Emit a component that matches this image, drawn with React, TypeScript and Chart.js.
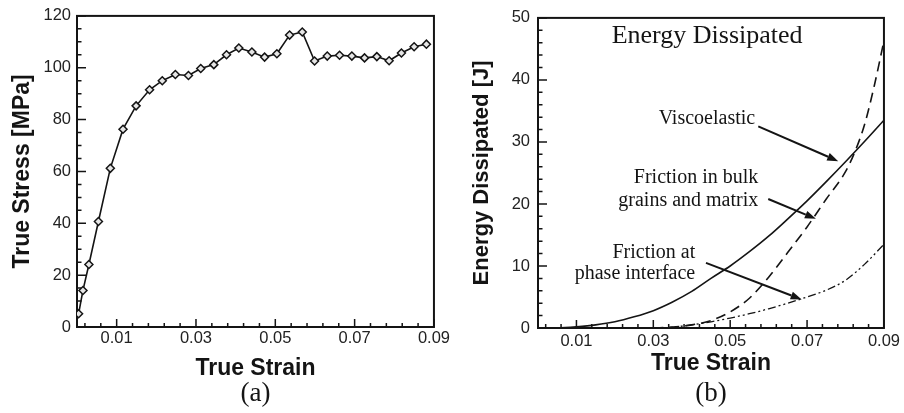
import React, { useEffect, useRef } from "react";
import { Chart, registerables } from "chart.js";

Chart.register(...registerables);

// ---------- Panel (a): true stress vs true strain ----------
const stressStrain = [
  0.0004, 0.0015, 0.003, 0.0054, 0.0084, 0.0116, 0.0149, 0.0183, 0.0215, 0.0248,
  0.0281, 0.0312, 0.0345, 0.0377, 0.0408, 0.0441, 0.0473, 0.0504, 0.0536, 0.0568,
  0.0599, 0.0631, 0.0662, 0.0693, 0.0725, 0.0756, 0.0787, 0.0818, 0.085, 0.0881,
];
const trueStress = [
  5.1, 14.1, 24.1, 40.7, 61.2, 76.3, 85.3, 91.5, 95.0, 97.4,
  97.0, 99.7, 101.2, 105.0, 107.6, 106.1, 104.1, 105.4, 112.6, 113.8,
  102.6, 104.5, 104.8, 104.5, 103.8, 104.3, 102.7, 105.7, 108.1, 109.1,
];
const stressMajorTicks = [0, 20, 40, 60, 80, 100, 120];
const stressMinorTicks = [5, 10, 15, 25, 30, 35, 45, 50, 55, 65, 70, 75, 85, 90, 95, 105, 110, 115];

// ---------- shared strain axis ----------
const strainMajorTicks = [0.01, 0.03, 0.05, 0.07, 0.09];
const strainMinorTicks = [
  0.002, 0.006, 0.014, 0.018, 0.022, 0.026, 0.034, 0.038, 0.042, 0.046,
  0.054, 0.058, 0.062, 0.066, 0.074, 0.078, 0.082, 0.086,
];

// ---------- Panel (b): energy dissipated ----------
const viscoStrain = [
  0, 0.005, 0.01, 0.015, 0.02, 0.025, 0.03, 0.035, 0.04, 0.045,
  0.05, 0.055, 0.06, 0.065, 0.07, 0.075, 0.08, 0.085, 0.09,
];
const viscoEnergy = [
  0, 0.02, 0.2, 0.5, 1.0, 1.8, 2.8, 4.2, 5.9, 8.0,
  10.0, 12.3, 14.8, 17.6, 20.5, 23.6, 26.8, 30.1, 33.5,
];
const bulkStrain = [
  0.03, 0.035, 0.04, 0.045, 0.05, 0.055, 0.06, 0.065, 0.07, 0.075,
  0.08, 0.0825, 0.085, 0.0875, 0.09,
];
const bulkEnergy = [
  0, 0.15, 0.5, 1.2, 2.6, 4.8, 8.2, 12.2, 16.3, 20.8,
  25.2, 28.5, 32.9, 39.1, 46.3,
];
const interfaceStrain = [0.033, 0.04, 0.045, 0.05, 0.055, 0.06, 0.065, 0.07, 0.075, 0.08, 0.085, 0.09];
const interfaceEnergy = [0, 0.5, 1.0, 1.6, 2.3, 3.1, 4.0, 5.0, 6.1, 7.7, 10.3, 13.5];
const energyMajorTicks = [0, 10, 20, 30, 40, 50];
const energyMinorTicks = [2, 4, 6, 8, 12, 14, 16, 18, 22, 24, 26, 28, 32, 34, 36, 38, 42, 44, 46, 48];

// annotation texts (anchor given in data units: right edge x, centre y)
const energyTitle = { text: "Energy Dissipated", x: 0.044, y: 47.1 };
const labelTexts = ["Viscoelastic", "Friction in bulk", "grains and matrix", "Friction at", "phase interface"];
const labelX = [0.0565, 0.0573, 0.0573, 0.0409, 0.0409];
const labelY = [33.8, 24.2, 20.5, 12.2, 8.8];
// arrows: from (x0,y0) to (x1,y1) in data units
const arrowFromX = [0.0573, 0.0599, 0.0437];
const arrowFromY = [32.5, 20.8, 10.5];
const arrowToX = [0.0781, 0.0723, 0.0686];
const arrowToY = [26.9, 17.6, 4.6];

const SANS = "'Liberation Sans', Arial, Helvetica, sans-serif";
const SERIF = "'Liberation Serif', 'Times New Roman', Times, serif";
const INK = "#141414";

function framePlugin(minorX: number[], minorY: number[]) {
  return {
    id: "frame",
    beforeDatasetsDraw(chart: any) {
      const { ctx, chartArea } = chart;
      const { left, right, top, bottom } = chartArea;
      const x = chart.scales.x;
      const y = chart.scales.y;
      ctx.save();
      ctx.strokeStyle = INK;
      ctx.lineWidth = 2;
      ctx.strokeRect(left, top, right - left, bottom - top);
      ctx.lineWidth = 1.5;
      ctx.beginPath();
      x.ticks.forEach((t: any) => {
        const px = x.getPixelForValue(t.value);
        ctx.moveTo(px, bottom);
        ctx.lineTo(px, bottom - 8);
      });
      minorX.forEach((v) => {
        const px = x.getPixelForValue(v);
        ctx.moveTo(px, bottom);
        ctx.lineTo(px, bottom - 4);
      });
      y.ticks.forEach((t: any) => {
        const py = y.getPixelForValue(t.value);
        ctx.moveTo(left, py);
        ctx.lineTo(left + 9, py);
      });
      minorY.forEach((v) => {
        const py = y.getPixelForValue(v);
        ctx.moveTo(left, py);
        ctx.lineTo(left + 4.5, py);
      });
      ctx.stroke();
      ctx.restore();
    },
  };
}

function panelLabelPlugin(text: string) {
  return {
    id: "panelLabel",
    afterDraw(chart: any) {
      const { ctx, chartArea } = chart;
      ctx.save();
      ctx.fillStyle = INK;
      ctx.font = `27px ${SERIF}`;
      ctx.textAlign = "center";
      ctx.textBaseline = "middle";
      ctx.fillText(text, (chartArea.left + chartArea.right) / 2, 394);
      ctx.restore();
    },
  };
}

const annotationPlugin = {
  id: "energyAnnotations",
  afterDatasetsDraw(chart: any) {
    const { ctx } = chart;
    const x = chart.scales.x;
    const y = chart.scales.y;
    ctx.save();
    ctx.fillStyle = INK;
    ctx.strokeStyle = INK;
    ctx.textBaseline = "middle";
    ctx.font = `26px ${SERIF}`;
    ctx.textAlign = "center";
    ctx.fillText(energyTitle.text, x.getPixelForValue(energyTitle.x), y.getPixelForValue(energyTitle.y));
    ctx.font = `20px ${SERIF}`;
    ctx.textAlign = "right";
    labelTexts.forEach((t, i) => {
      ctx.fillText(t, x.getPixelForValue(labelX[i]), y.getPixelForValue(labelY[i]));
    });
    ctx.lineWidth = 2;
    arrowFromX.forEach((_, i) => {
      const x0 = x.getPixelForValue(arrowFromX[i]);
      const y0 = y.getPixelForValue(arrowFromY[i]);
      const x1 = x.getPixelForValue(arrowToX[i]);
      const y1 = y.getPixelForValue(arrowToY[i]);
      const ang = Math.atan2(y1 - y0, x1 - x0);
      const headLen = 11;
      const headW = 4;
      const bx = x1 - headLen * Math.cos(ang);
      const by = y1 - headLen * Math.sin(ang);
      ctx.beginPath();
      ctx.moveTo(x0, y0);
      ctx.lineTo(bx, by);
      ctx.stroke();
      ctx.beginPath();
      ctx.moveTo(x1, y1);
      ctx.lineTo(bx + headW * Math.sin(ang), by - headW * Math.cos(ang));
      ctx.lineTo(bx - headW * Math.sin(ang), by + headW * Math.cos(ang));
      ctx.closePath();
      ctx.fill();
    });
    ctx.restore();
  },
};

function xScale(labelPad: number, titlePadBottom: number, height: number) {
  return {
    type: "linear" as const,
    position: "bottom" as const,
    min: 0,
    max: 0.09,
    afterBuildTicks: (scale: any) => {
      scale.ticks = strainMajorTicks.map((value) => ({ value }));
    },
    afterFit: (scale: any) => {
      scale.height = height;
    },
    ticks: {
      autoSkip: false,
      maxRotation: 0,
      minRotation: 0,
      padding: labelPad,
      color: "#222",
      font: { family: SANS, size: 16.5 },
      callback: (v: any) => Number(v).toFixed(2),
    },
    grid: { display: false, drawTicks: false },
    border: { display: false },
    title: {
      display: true,
      text: "True Strain",
      color: INK,
      font: { family: SANS, size: 23, weight: "bold" as const },
      padding: { top: 0, bottom: titlePadBottom },
    },
  };
}

function yScale(max: number, step: number, title: string, width: number, labelPad: number, titlePadTop: number, titleSize: number) {
  return {
    type: "linear" as const,
    position: "left" as const,
    min: 0,
    max,
    afterFit: (scale: any) => {
      scale.width = width;
    },
    ticks: {
      stepSize: step,
      padding: labelPad,
      color: "#222",
      font: { family: SANS, size: 16.5 },
    },
    grid: { display: false, drawTicks: false },
    border: { display: false },
    title: {
      display: true,
      text: title,
      color: INK,
      font: { family: SANS, size: titleSize, weight: "bold" as const },
      padding: { top: titlePadTop, bottom: 0 },
    },
  };
}

export default function App() {
  const leftRef = useRef<HTMLCanvasElement>(null);
  const rightRef = useRef<HTMLCanvasElement>(null);

  useEffect(() => {
    const left = new Chart(leftRef.current as HTMLCanvasElement, {
      type: "scatter",
      data: {
        datasets: [
          {
            data: stressStrain.map((x, i) => ({ x, y: trueStress[i] })),
            showLine: true,
            borderColor: INK,
            borderWidth: 1.6,
            pointStyle: "rectRot",
            pointRadius: 4,
            pointBorderWidth: 1.5,
            pointBorderColor: INK,
            pointBackgroundColor: "#e6e6e6",
            tension: 0,
          },
        ],
      },
      options: {
        responsive: false,
        maintainAspectRatio: false,
        animation: false,
        devicePixelRatio: 1,
        layout: { padding: { top: 14, right: 18, bottom: 0, left: 0 } },
        plugins: { legend: { display: false }, tooltip: { enabled: false } },
        scales: {
          x: xScale(2, 31, 86),
          y: yScale(120, 20, "True Stress [MPa]", 77, 6, 9, 23),
        },
      },
      plugins: [framePlugin(strainMinorTicks, stressMinorTicks), panelLabelPlugin("(a)")],
    } as any);

    const right = new Chart(rightRef.current as HTMLCanvasElement, {
      type: "scatter",
      data: {
        datasets: [
          {
            data: viscoStrain.map((x, i) => ({ x, y: viscoEnergy[i] })),
            showLine: true,
            borderColor: INK,
            borderWidth: 1.6,
            pointRadius: 0,
            cubicInterpolationMode: "monotone",
          },
          {
            data: bulkStrain.map((x, i) => ({ x, y: bulkEnergy[i] })),
            showLine: true,
            borderColor: INK,
            borderWidth: 1.6,
            borderDash: [10, 6],
            pointRadius: 0,
            cubicInterpolationMode: "monotone",
          },
          {
            data: interfaceStrain.map((x, i) => ({ x, y: interfaceEnergy[i] })),
            showLine: true,
            borderColor: INK,
            borderWidth: 1.3,
            borderDash: [8, 3, 2, 3, 2, 3],
            pointRadius: 0,
            cubicInterpolationMode: "monotone",
          },
        ],
      },
      options: {
        responsive: false,
        maintainAspectRatio: false,
        animation: false,
        devicePixelRatio: 1,
        layout: { padding: { top: 16, right: 20, bottom: 0, left: 0 } },
        plugins: { legend: { display: false }, tooltip: { enabled: false } },
        scales: {
          x: xScale(4, 36, 85),
          y: yScale(50, 10, "Energy Dissipated [J]", 86, 8, 17, 22),
        },
      },
      plugins: [framePlugin(strainMinorTicks, energyMinorTicks), annotationPlugin, panelLabelPlugin("(b)")],
    } as any);

    return () => {
      left.destroy();
      right.destroy();
    };
  }, []);

  return (
    <div style={{ position: "absolute", left: 0, top: 0, width: 904, height: 413, background: "#fff" }}>
      <canvas
        ref={leftRef}
        width={452}
        height={413}
        style={{ position: "absolute", left: 0, top: 0, width: 452, height: 413 }}
      />
      <canvas
        ref={rightRef}
        width={452}
        height={413}
        style={{ position: "absolute", left: 452, top: 0, width: 452, height: 413 }}
      />
    </div>
  );
}
